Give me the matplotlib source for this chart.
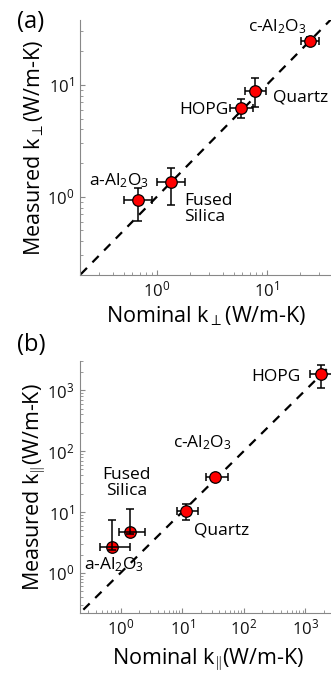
import numpy as np
import matplotlib
matplotlib.use("Agg")
import matplotlib.pyplot as plt

plt.rcParams['font.family'] = ['Open Sans', 'DejaVu Sans']
plt.rcParams['mathtext.fontset'] = 'custom'
plt.rcParams['mathtext.rm'] = 'Open Sans'
plt.rcParams['mathtext.it'] = 'Open Sans'

# cross-plane (k_perp) measurements: nominal vs measured, with error limits
perp_names = ["a-Al$_2$O$_3$", "Fused\nSilica", "HOPG", "Quartz", "c-Al$_2$O$_3$"]
perp_nom = [0.68, 1.35, 5.8, 7.9, 24.6]
perp_nom_lo = [0.50, 1.0, 4.6, 6.3, 20.7]
perp_nom_hi = [0.91, 1.82, 7.5, 9.9, 29.7]
perp_meas = [0.93, 1.35, 6.2, 8.8, 24.5]
perp_meas_lo = [0.61, 0.84, 5.1, 6.3, 22.5]
perp_meas_hi = [1.2, 1.82, 7.4, 11.4, 26.5]

# in-plane (k_par) measurements
par_names = ["a-Al$_2$O$_3$", "Fused\nSilica", "Quartz", "c-Al$_2$O$_3$", "HOPG"]
par_nom = [0.72, 1.45, 11.5, 34.0, 1800.0]
par_nom_lo = [0.46, 0.94, 8.3, 24.5, 1200.0]
par_nom_hi = [1.4, 2.5, 18.0, 55.0, 2700.0]
par_meas = [2.66, 4.7, 10.2, 37.0, 1830.0]
par_meas_lo = [2.4, 4.3, 7.5, 33.0, 1100.0]
par_meas_hi = [7.3, 11.3, 13.7, 41.0, 2570.0]

LBL = 15.5
ANN = 12.5


def draw_panel(ax, nom, nlo, nhi, meas, mlo, mhi, lims, on_top=()):
    nom = np.array(nom)
    meas = np.array(meas)
    xerr = [nom - np.array(nlo), np.array(nhi) - nom]
    yerr = [meas - np.array(mlo), np.array(mhi) - meas]
    ax.plot([1e-2, 1e5], [1e-2, 1e5], 'k--', lw=1.6, dashes=(4, 3.5), zorder=1)
    for i in range(len(nom)):
        z = 4 if i in on_top else 2
        ax.errorbar(nom[i], meas[i], xerr=[[xerr[0][i]], [xerr[1][i]]],
                    yerr=[[yerr[0][i]], [yerr[1][i]]], fmt='none',
                    ecolor='k', elinewidth=1.1, capsize=3, capthick=1.1, zorder=z)
        ax.plot(nom[i], meas[i], 'o', ms=8.3, mfc='red', mec='k', mew=0.9, zorder=3)
    ax.set_xscale('log')
    ax.set_yscale('log')
    ax.set_xlim(lims[0])
    ax.set_ylim(lims[1])
    for s in ['top', 'right']:
        ax.spines[s].set_visible(False)
    for s in ['left', 'bottom']:
        ax.spines[s].set_color('#888888')
        ax.spines[s].set_linewidth(0.8)
    ax.tick_params(which='both', direction='in', colors='#888888', labelcolor='#111111',
                   labelsize=12, pad=4)
    ax.tick_params(which='major', length=3.5)
    ax.tick_params(which='minor', length=2)


fig = plt.figure(figsize=(3.31, 6.79), dpi=100)

ax1 = fig.add_axes([0.2417, 0.595, 0.764, 0.3756])
draw_panel(ax1, perp_nom, perp_nom_lo, perp_nom_hi, perp_meas, perp_meas_lo,
           perp_meas_hi, [(0.2, 40), (0.2, 38)])
ax1.set_xlabel(r"Nominal k$_\perp$(W/m-K)", fontsize=LBL, labelpad=3)
ax1.set_ylabel(r"Measured k$_\perp$(W/m-K)", fontsize=LBL, labelpad=1)
ax1.text(0.85, 1.38, perp_names[0], fontsize=ANN, ha='right', va='center')
ax1.text(1.78, 0.78, perp_names[1], fontsize=ANN, ha='left', va='center', linespacing=1.05)
ax1.text(4.5, 6.0, perp_names[2], fontsize=ANN, ha='right', va='center')
ax1.text(11.5, 7.65, perp_names[3], fontsize=ANN, ha='left', va='center')
ax1.text(12.5, 33, perp_names[4], fontsize=ANN, ha='center', va='center')
fig.text(0.05, 0.968, "(a)", fontsize=17, ha='left', va='center')

ax2 = fig.add_axes([0.2417, 0.0972, 0.770, 0.371])
draw_panel(ax2, par_nom, par_nom_lo, par_nom_hi, par_meas, par_meas_lo,
           par_meas_hi, [(0.22, 3000), (0.22, 3000)], on_top=(0, 1))
ax2.set_xlabel(r"Nominal k$_{\Vert}$(W/m-K)", fontsize=LBL, labelpad=6)
ax2.set_ylabel(r"Measured k$_{\Vert}$(W/m-K)", fontsize=LBL, labelpad=0)
ax2.text(0.26, 1.38, par_names[0], fontsize=ANN, ha='left', va='center')
ax2.text(1.24, 30, par_names[1], fontsize=ANN, ha='center', va='center', linespacing=1.05)
ax2.text(15.5, 5.0, par_names[2], fontsize=ANN, ha='left', va='center')
ax2.text(21, 135, par_names[3], fontsize=ANN, ha='center', va='center')
ax2.text(820, 1650, par_names[4], fontsize=ANN, ha='right', va='center')
fig.text(0.05, 0.492, "(b)", fontsize=17, ha='left', va='center')

fig.savefig("out.png", dpi=100)
